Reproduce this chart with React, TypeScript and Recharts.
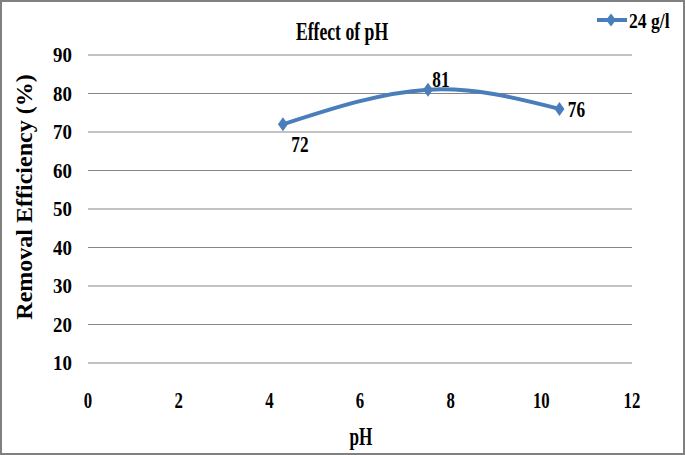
import React from 'react';
import { LineChart, Line, XAxis, YAxis, CartesianGrid, LabelList } from 'recharts';

const phValues = [4.3, 7.5, 10.4];
const removalEfficiency = [72, 81, 76];
const xTicks = [0, 2, 4, 6, 8, 10, 12];
const yTicks = [10, 20, 30, 40, 50, 60, 70, 80, 90];
const seriesName = '24 g/l';
const chartTitle = 'Effect of pH';
const xLabel = 'pH';
const yLabel = 'Removal Efficiency (%)';

const data = phValues.map((ph, i) => ({ ph, value: removalEfficiency[i] }));

const W = 685;
const H = 455;
const BLUE = '#4A7EBB';
const FONT = '"Liberation Serif", "Times New Roman", serif';

// where each value label sits relative to its point
const labelOffsets = [
  { dx: 17, dy: 28 },
  { dx: 13, dy: -3 },
  { dx: 17, dy: 8 },
];

function CText({ x, y, sx = 1, anchor = 'middle', size, children }: any) {
  return (
    <text
      transform={`translate(${x},${y}) scale(${sx},1)`}
      textAnchor={anchor}
      fontFamily={FONT}
      fontWeight="bold"
      fontSize={size}
      fill="#000"
    >
      {children}
    </text>
  );
}

const diamond = (cx: number, cy: number, hw: number, hh: number) =>
  `${cx},${cy - hh} ${cx + hw},${cy} ${cx},${cy + hh} ${cx - hw},${cy}`;

const XTick = ({ x, y, payload }: any) => (
  <CText x={x} y={y + 45} sx={0.7} size={24}>{payload.value}</CText>
);

const YTick = ({ x, y, payload }: any) => (
  <CText x={x - 16} y={y + 7} anchor="end" sx={0.9} size={21}>{payload.value}</CText>
);

const Dot = ({ cx, cy, index }: any) => (
  <polygon key={`d${index}`} points={diamond(cx, cy, 5, 7)} fill={BLUE} />
);

const ValueLabel = ({ x, y, value, index }: any) => {
  const o = labelOffsets[index] || { dx: 0, dy: 0 };
  return <CText x={x + o.dx} y={y + o.dy} sx={0.72} size={24}>{value}</CText>;
};

export default function App() {
  return (
    <div style={{ position: 'absolute', left: 0, top: 0, width: W, height: H, background: '#fff' }}>
      <LineChart width={W} height={H} data={data} margin={{ top: 55, right: 53, bottom: 0, left: 0 }}>
        <CartesianGrid vertical={false} stroke="#868686" strokeWidth={1} />
        <XAxis
          dataKey="ph"
          type="number"
          domain={[0, 12]}
          ticks={xTicks}
          height={92}
          axisLine={false}
          tickLine={false}
          tickSize={0}
          tickMargin={0}
          tick={<XTick />}
          interval={0}
        />
        <YAxis
          type="number"
          domain={[10, 90]}
          ticks={yTicks}
          width={88}
          axisLine={false}
          tickLine={false}
          tickSize={0}
          tickMargin={0}
          tick={<YTick />}
          interval={0}
        />
        <Line
          type="natural"
          dataKey="value"
          name={seriesName}
          stroke={BLUE}
          strokeWidth={4}
          dot={<Dot />}
          activeDot={false}
          isAnimationActive={false}
        >
          <LabelList dataKey="value" content={<ValueLabel />} />
        </Line>
      </LineChart>
      <svg width={W} height={H} style={{ position: 'absolute', left: 0, top: 0, pointerEvents: 'none' }}>
        <CText x={342} y={40} sx={0.68} size={26}>{chartTitle}</CText>
        <CText x={361} y={445} sx={0.66} size={26}>{xLabel}</CText>
        <text
          transform="translate(32,197) rotate(-90)"
          textAnchor="middle"
          fontFamily={FONT}
          fontWeight="bold"
          fontSize={24}
          fill="#000"
        >
          {yLabel}
        </text>
        <line x1={597} y1={20} x2={627} y2={20} stroke={BLUE} strokeWidth={4} />
        <polygon points={diamond(611, 20, 5, 6.5)} fill={BLUE} />
        <CText x={629} y={28} anchor="start" sx={0.8} size={22}>{seriesName}</CText>
        <rect x={1} y={1} width={W - 2} height={H - 2} fill="none" stroke="#808080" strokeWidth={2} />
      </svg>
    </div>
  );
}
